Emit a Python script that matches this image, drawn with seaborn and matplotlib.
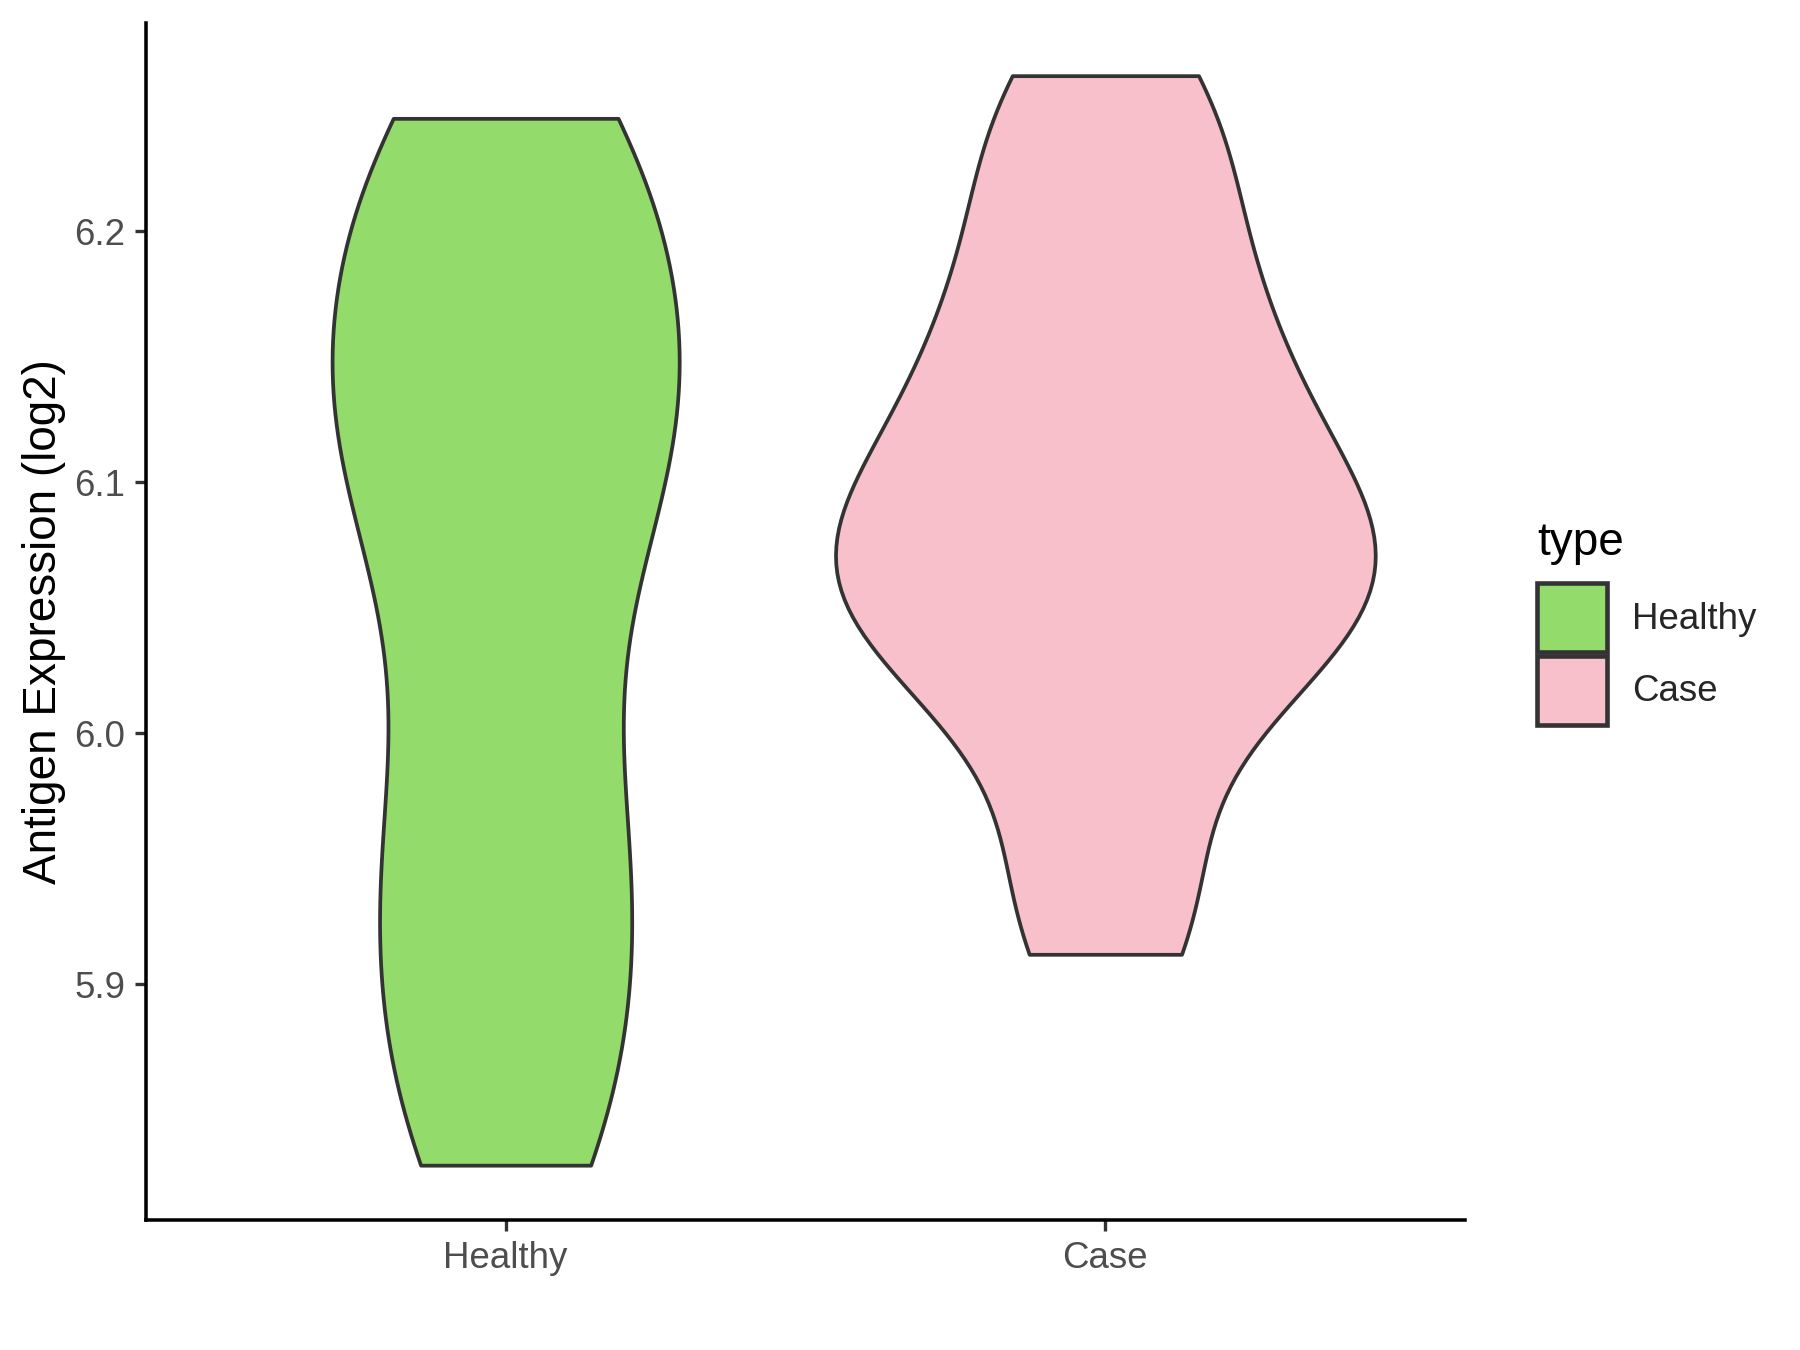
import matplotlib
matplotlib.use("Agg")
import matplotlib.pyplot as plt
import seaborn as sns
import pandas as pd
from matplotlib.patches import Patch

# ---- data ----
categories = ["Healthy", "Case"]
healthy_values = [5.828, 5.855, 5.905, 5.93, 5.968, 6.01, 6.068, 6.095,
                  6.12, 6.145, 6.165, 6.195, 6.232, 6.245]
case_values = [5.912, 5.955, 6.015, 6.03, 6.05, 6.063, 6.075, 6.09,
               6.11, 6.135, 6.16, 6.19, 6.23, 6.262]
colors = ["#93DB6B", "#F7C0CB"]
y_ticks = [5.9, 6.0, 6.1, 6.2]
y_label = "Antigen Expression (log2)"
legend_title = "type"

df = pd.DataFrame({
    "type": ["Healthy"] * len(healthy_values) + ["Case"] * len(case_values),
    "value": healthy_values + case_values,
})

sns.set_theme(style="ticks")
plt.rcParams["font.family"] = ["Liberation Sans", "DejaVu Sans"]

fig = plt.figure(figsize=(6, 4.5), dpi=300)
ax = fig.add_axes([0.081, 0.096, 0.733, 0.887])

sns.violinplot(data=df, x="type", y="value", hue="type", order=categories,
               hue_order=categories, palette=colors, saturation=1,
               inner=None, cut=0, density_norm="area", common_norm=True,
               width=0.9, bw_adjust=0.7, linecolor="#333333", linewidth=0.9,
               legend=False, ax=ax)

ax.set_xlim(-0.6, 1.6)
ax.set_ylim(5.806, 6.283)
ax.set_yticks(y_ticks)
ax.set_yticklabels([f"{t:.1f}" for t in y_ticks])
ax.set_xlabel("")
ax.set_ylabel(y_label, fontsize=11, color="black", labelpad=2)
ax.tick_params(axis="both", labelsize=8.8, labelcolor="#4D4D4D", color="#333333",
               length=2.75, width=0.8, pad=2.2)
for s in ["top", "right"]:
    ax.spines[s].set_visible(False)
for s in ["left", "bottom"]:
    ax.spines[s].set_linewidth(0.85)
    ax.spines[s].set_color("black")

# legend title as its own text, keys below it
fig.text(1537 / 1800, 1 - 555 / 1350, legend_title, fontsize=11,
         color="black", ha="left", va="baseline")
handles = [Patch(facecolor=c, edgecolor="#333333", linewidth=1.1) for c in colors]
leg = fig.legend(handles, categories, loc="upper left",
                 bbox_to_anchor=(1537 / 1800, 1 - 583 / 1350), frameon=False,
                 fontsize=8.8, handlelength=1.9, handleheight=2.52,
                 labelspacing=0.1, handletextpad=0.7,
                 borderpad=0, borderaxespad=0)

fig.savefig("out.png", dpi=300)
